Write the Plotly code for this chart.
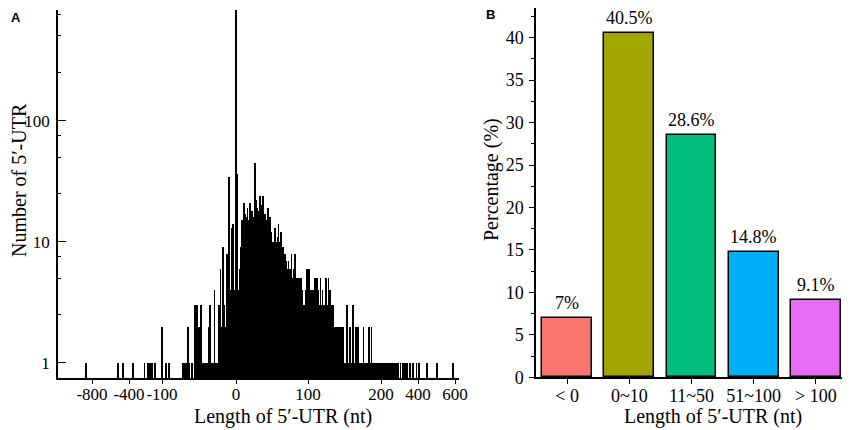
import numpy as np
import plotly.graph_objects as go

#%% panel A data : number of genes per 5'-UTR length (nt)
# far outliers (one bar each)
tail_neg_nt = [-865, -516, -462, -366, -260, -229, -209, -188, -164, -100, -95, -91]
tail_neg_n = [1, 1, 1, 1, 1, 1, 1, 1, 1, 2, 1, 1]

near_neg_nt = [-72, -70, -68, -65, -63, -59, -56, -54, -52, -50, -47, -45, -43, -41, -38,
               -36, -35, -33, -31, -29, -27, -25, -23, -22, -21, -20, -18, -17, -16, -14,
               -13, -12, -11, -10, -9, -8, -7, -6, -5, -4, -3, -2, -1]
near_neg_n = [1, 1, 1, 2, 1, 1, 3, 3, 3, 2, 3, 1, 1, 1, 1,
              2, 3, 1, 1, 4, 1, 1, 3, 1, 6, 2, 9, 1, 3, 2,
              1, 8, 2, 3, 34, 2, 4, 13, 3, 14, 4, 4, 3]

zero_n = 850

# lengths 1..200 nt
pos_n = [36, 4, 4, 3, 6, 4, 9, 15, 8, 12,
         21, 14, 17, 12, 16, 19, 13, 15, 21, 16,
         14, 18, 12, 16, 15, 45, 17, 22, 16, 19,
         15, 18, 24, 17, 16, 20, 24, 15, 13, 17,
         14, 12, 15, 19, 13, 11, 16, 10, 12, 9,
         10, 9, 9, 13, 8, 10, 9, 11, 14, 10,
         9, 10, 12, 8, 9, 9, 7, 8, 5, 7,
         6, 5, 7, 5, 6, 6, 8, 5, 4, 6,
         5, 8, 5, 4, 5, 4, 3, 5, 3, 5,
         3, 4, 3, 3, 3, 2, 4, 3, 6, 5,
         6, 3, 2, 4, 3, 2, 4, 4, 3, 5,
         3, 5, 2, 4, 3, 2, 5, 3, 2, 4,
         2, 3, 2, 3, 5, 2, 3, 5, 2, 4,
         2, 1, 3, 3, 2, 1, 2, 2, 1, 2,
         2, 1, 2, 1, 2, 1, 1, 2, 1, 1,
         1, 1, 3, 1, 1, 1, 2, 1, 0, 1,
         1, 3, 0, 1, 1, 2, 1, 2, 1, 0,
         1, 1, 0, 1, 1, 2, 1, 0, 1, 1,
         1, 0, 1, 2, 1, 1, 2, 0, 1, 1,
         1, 0, 1, 1, 0, 1, 0, 1, 1, 0]

tail_pos_nt = [204, 208, 212, 215, 219, 223, 226, 230, 235, 240, 245, 250, 257, 263, 270,
               278, 285, 295, 305, 318, 329, 342, 356, 374, 392, 407, 447, 501, 591]
tail_pos_n = [1] * len(tail_pos_nt)

# broken x axis of panel A : tick values and where they sit on the axis
tick_nt = [-800, -400, -100, 0, 100, 200, 400, 600]
tick_pos = [92, 129, 162, 236, 308, 381, 418, 455]

#%% panel B data
cat_labels = ["< 0", "0~10", "11~50", "51~100", "> 100"]
cat_pct = [7, 40.5, 28.6, 14.8, 9.1]
cat_colors = ["#F8766D", "#A3A500", "#00BF7D", "#00B0F6", "#E76BF3"]


#%% scale for the broken axis
def to_axis(v):
    v = np.asarray(v, dtype=float)
    out = np.interp(v, tick_nt, tick_pos)
    slope = (tick_pos[1] - tick_pos[0]) / (tick_nt[1] - tick_nt[0])
    lo = v < tick_nt[0]
    out[lo] = tick_pos[0] + (v[lo] - tick_nt[0]) * slope
    return out


lengths = tail_neg_nt + near_neg_nt + [0] + list(range(1, len(pos_n) + 1)) + tail_pos_nt
counts = tail_neg_n + near_neg_n + [zero_n] + pos_n + tail_pos_n
keep = [i for i, c in enumerate(counts) if c > 0]
lengths = [lengths[i] for i in keep]
counts = [counts[i] for i in keep]

FONT = "Liberation Serif"

# the page adds an 8px body margin, so the figure is placed at (8, 8) in the window
PAD = 8
W, H = 850 - PAD, 430 - PAD


def px(x):
    return (x - PAD) / W


def py(y):
    return min(1.0, 1 - (y - PAD) / H)


fig = go.Figure()

fig.add_trace(go.Bar(x=to_axis(lengths), y=counts, width=0.8,
                     marker_color="black", marker_line_width=0,
                     xaxis="x", yaxis="y", showlegend=False))

fig.add_trace(go.Bar(x=cat_labels, y=cat_pct, width=0.8,
                     marker_color=cat_colors, marker_line_color="black", marker_line_width=1.5,
                     xaxis="x2", yaxis="y2", showlegend=False))

# percentage labels over the bars
for lab, v in zip(cat_labels, cat_pct):
    fig.add_annotation(x=lab, y=v, xref="x2", yref="y2", text=f"{v:g}%",
                       showarrow=False, xanchor="center", yanchor="bottom", yshift=3,
                       font=dict(family=FONT, size=18, color="black"))

common = dict(showline=True, linecolor="black", linewidth=1.5, showgrid=False, zeroline=False,
              tickwidth=1, tickcolor="black", tickangle=0, automargin=False)

fig.update_layout(
    width=W, height=H, margin=dict(l=0, r=0, t=0, b=0, autoexpand=False),
    plot_bgcolor="white", paper_bgcolor="white", bargap=0,
    font=dict(family=FONT, color="black"),
    xaxis=dict(domain=[px(58), px(459)], range=[58, 459],
               tickvals=to_axis(tick_nt), ticktext=[str(t) for t in tick_nt],
               ticks="outside", ticklen=4, tickfont=dict(size=17), ticklabelstandoff=-4, **common),
    yaxis=dict(domain=[py(378), py(10)], type="log", range=[-0.124, 2.913],
               tickvals=[1, 10, 100], ticktext=["1", "10", "100"],
               ticks="inside", ticklen=8,
               minor=dict(tickvals=[2.5, 5, 7.5, 25, 50, 75, 250, 500, 750],
                          ticks="inside", ticklen=3, tickcolor="black"),
               tickfont=dict(size=17), ticklabelstandoff=3, **common),
    xaxis2=dict(domain=[px(536), px(847)], anchor="y2", type="category", range=[-0.5, 4.5],
                ticks="outside", ticklen=5, tickfont=dict(size=18), ticklabelstandoff=-4, **common),
    yaxis2=dict(domain=[py(377.3), py(8)], anchor="x2", range=[0, 43.5],
                tickvals=[0, 5, 10, 15, 20, 25, 30, 35, 40],
                ticks="outside", ticklen=5,
                minor=dict(dtick=2.5, ticks="outside", ticklen=3, tickcolor="black"),
                tickfont=dict(size=18), ticklabelstandoff=2, **common),
)

# axis titles and panel letters
ann = dict(xref="paper", yref="paper", showarrow=False, xanchor="center", yanchor="middle",
           font=dict(family=FONT, size=20, color="black"))
fig.add_annotation(x=px(283), y=py(416), text="Length of 5′-UTR (nt)", **ann)
fig.add_annotation(x=px(19), y=py(180), text="Number of 5′-UTR", textangle=-90, **ann)
fig.add_annotation(x=px(713), y=py(416), text="Length of 5′-UTR (nt)", **ann)
fig.add_annotation(x=px(491), y=py(180), text="Percentage (%)", textangle=-90, **ann)

letter = dict(xref="paper", yref="paper", showarrow=False, xanchor="center", yanchor="middle",
              font=dict(family="Liberation Sans", size=13, color="black"))
fig.add_annotation(x=px(16), y=py(17), text="<b>A</b>", **letter)
fig.add_annotation(x=px(490), y=py(14), text="<b>B</b>", **letter)

fig.write_html("out.html")
